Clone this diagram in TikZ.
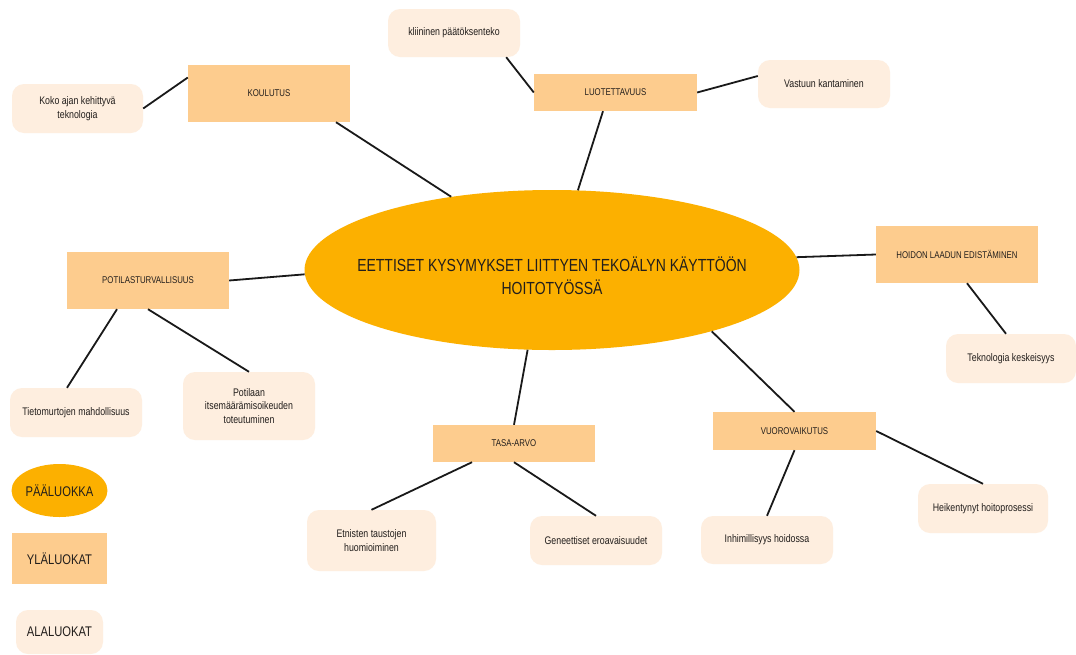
\documentclass[tikz,border=0pt]{standalone}
\usepackage{fontspec}
\setmainfont{Liberation Sans}[FakeStretch=0.8]
\usetikzlibrary{shapes.geometric}
\definecolor{mainc}{RGB}{252,176,0}
\definecolor{upc}{RGB}{253,204,142}
\definecolor{subc}{RGB}{254,238,223}
\definecolor{txt}{RGB}{34,30,28}
\tikzset{
  upbox/.style={fill=upc, draw=none, inner sep=0pt, text=txt, font=\fontsize{9.8}{11}\selectfont, align=center},
  subbox/.style={fill=subc, draw=none, rounded corners=12pt, inner sep=0pt, text=txt, font=\fontsize{11}{13.5}\selectfont, align=center},
  mainel/.style={ellipse, fill=mainc, draw=none, inner sep=0pt},
  link/.style={line width=1.8pt, black!90}
}
\begin{document}
\begin{tikzpicture}[x=1pt,y=-1pt]
\useasboundingbox (0,0) rectangle (1076,654);
\fill[white] (0,0) rectangle (1076,654);
% nodes
\node[mainel, minimum width=495pt, minimum height=160pt] (ell) at (552,270) {};
\node[upbox, minimum width=162pt, minimum height=57pt] (kou) at (269,93.5) {KOULUTUS};
\node[subbox, minimum width=131pt, minimum height=49pt] (koko) at (77.5,108.5) {Koko ajan kehittyvä\\teknologia};
\node[subbox, minimum width=132pt, minimum height=48pt] (kli) at (454,33) {kliininen päätöksenteko};
\node[upbox, minimum width=163pt, minimum height=37pt] (luo) at (615.5,92.5) {LUOTETTAVUUS};
\node[subbox, minimum width=132pt, minimum height=48pt] (vas) at (824,84) {Vastuun kantaminen};
\node[upbox, minimum width=162pt, minimum height=57pt] (hoi) at (957,254.5) {HOIDON LAADUN EDISTÄMINEN};
\node[subbox, minimum width=130pt, minimum height=49pt] (tek) at (1011,358.5) {Teknologia keskeisyys};
\node[upbox, minimum width=162pt, minimum height=57pt] (pot) at (148,280.5) {POTILASTURVALLISUUS};
\node[subbox, minimum width=132pt, minimum height=49pt] (tie) at (76,412.5) {Tietomurtojen mahdollisuus};
\node[subbox, minimum width=132pt, minimum height=68pt] (ptl) at (249,406) {Potilaan\\itsemäärämisoikeuden\\toteutuminen};
\node[upbox, minimum width=162pt, minimum height=37pt] (tas) at (514,443.5) {TASA-ARVO};
\node[subbox, minimum width=129pt, minimum height=61pt] (etn) at (371.5,540.5) {Etnisten taustojen\\huomioiminen};
\node[subbox, minimum width=132pt, minimum height=49pt] (gen) at (596,540.5) {Geneettiset eroavaisuudet};
\node[upbox, minimum width=163pt, minimum height=38pt] (vuo) at (794.5,431) {VUOROVAIKUTUS};
\node[subbox, minimum width=132pt, minimum height=48pt] (inh) at (767,540) {Inhimillisyys hoidossa};
\node[subbox, minimum width=130pt, minimum height=49pt] (hei) at (983,508.5) {Heikentynyt hoitoprosessi};
% legend
\node[mainel, minimum width=95pt, minimum height=53pt, text=txt, font=\fontsize{14}{16}\selectfont] (lp) at (59.5,490.5) {PÄÄLUOKKA};
\node[upbox, minimum width=95pt, minimum height=51pt, font=\fontsize{14}{16}\selectfont] (ly) at (59.5,558.5) {YLÄLUOKAT};
\node[subbox, minimum width=87pt, minimum height=44pt, font=\fontsize{14}{16}\selectfont] (la) at (59.5,632) {ALALUOKAT};
% main title
\node[text=txt, align=center, font=\fontsize{17.5}{23}\selectfont] (title) at (552,276) {EETTISET KYSYMYKSET LIITTYEN TEKOÄLYN KÄYTTÖÖN\\HOITOTYÖSSÄ};
% connectors
\draw[link] (koko.east) -- ([yshift=16pt]kou.west);
\draw[link] ([xshift=67pt]kou.south) -- (ell.144);
\draw[link] ([xshift=-14pt]kli.south east) -- (luo.west);
\draw[link] (luo.east) -- ([yshift=8pt]vas.west);
\draw[link] ([xshift=-12.5pt]luo.south) -- (ell.72);
\draw[link] (ell.3) -- (hoi.west);
\draw[link] ([xshift=10pt]hoi.south) -- ([xshift=-5pt]tek.north);
\draw[link] (pot.east) -- (ell.181);
\draw[link] ([xshift=-31pt]pot.south) -- ([xshift=-9pt]tie.north);
\draw[link] (pot.south) -- (ptl.north);
\draw[link] (ell.253) -- (tas.north);
\draw[link] ([xshift=-42pt]tas.south) -- (etn.north);
\draw[link] (tas.south) -- (gen.north);
\draw[link] (ell.339) -- (vuo.north);
\draw[link] (vuo.south) -- (inh.north);
\draw[link] (vuo.east) -- (hei.north);
\end{tikzpicture}
\end{document}
